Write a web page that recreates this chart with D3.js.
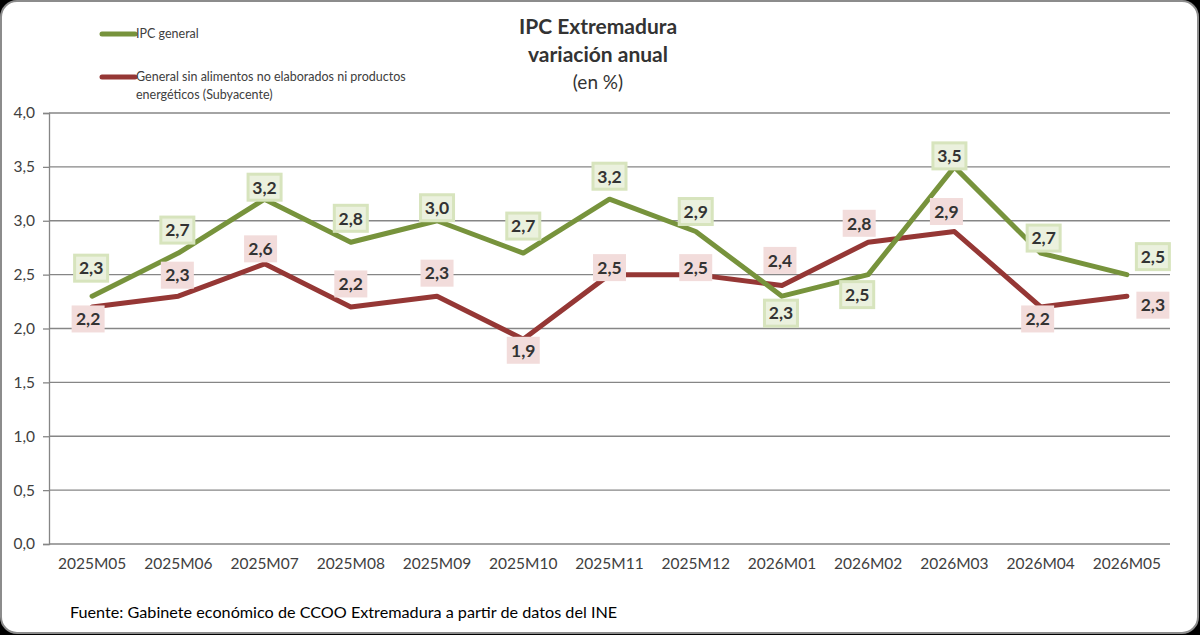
<!DOCTYPE html>
<html>
<head>
<meta charset="utf-8">
<script src="https://cdn.jsdelivr.net/npm/d3@7"></script>
<style>
  body { margin: 0; background: #000; }
  svg { display: block; font-family: Lato, "Open Sans", sans-serif; }
</style>
</head>
<body>
<div id="chart"></div>
<script>
// data
const months = ["2025M05", "2025M06", "2025M07", "2025M08", "2025M09", "2025M10", "2025M11",
                "2025M12", "2026M01", "2026M02", "2026M03", "2026M04", "2026M05"];
const ipcGeneral = [2.3, 2.7, 3.2, 2.8, 3.0, 2.7, 3.2, 2.9, 2.3, 2.5, 3.5, 2.7, 2.5];
const subyacente = [2.2, 2.3, 2.6, 2.2, 2.3, 1.9, 2.5, 2.5, 2.4, 2.8, 2.9, 2.2, 2.3];
const yTicks = [0, 0.5, 1, 1.5, 2, 2.5, 3, 3.5, 4];

// label placement (pixel offsets from the point)
const greenOffsets = [[-1,-28],[-1,-23],[0,-12],[0,-24],[0,-13],[0,-27],[0,-23],[0,-20],[-1,17],[-11,20],[-5,-11],[3,-15],[26,-18]];
const redOffsets = [[-4,12],[-1,-21],[-4,-15],[0,-23],[0,-23],[0,11],[0,-7],[0,-7],[-2,-25],[-9,-19],[-8,-20],[-3,12],[26,9]];

let width = 1200, height = 635;
let svg = d3.select("#chart").append("svg").attr("width", width).attr("height", height);

svg.append("rect").attr("x", 0).attr("y", 0).attr("width", width).attr("height", height).attr("fill", "#000");
svg.append("rect")
    .attr("x", 1).attr("y", 1).attr("width", width - 3).attr("height", height - 3)
    .attr("rx", 16).attr("ry", 16)
    .attr("fill", "#fff")
    .attr("stroke", "#8c8c8c")
    .attr("stroke-width", 2);

let plotLeft = 49, plotRight = 1170, plotTop = 113, plotBottom = 544;

let x = d3.scaleBand().domain(months).range([plotLeft, plotRight]);
let y = d3.scaleLinear().domain([0, 4]).range([plotBottom, plotTop]);
let fmt = v => d3.format(".1f")(v).replace(".", ",");

// gridlines
svg.selectAll(".grid").data(yTicks).enter().append("line")
    .attr("x1", plotLeft).attr("x2", plotRight)
    .attr("y1", d => y(d)).attr("y2", d => y(d))
    .attr("stroke", "#868686")
    .attr("stroke-width", 1.3);

// y axis
let yAxis = svg.append("g")
    .attr("transform", `translate(${plotLeft},0)`)
    .call(d3.axisLeft(y).tickValues(yTicks).tickSize(6).tickPadding(8).tickFormat(fmt));
yAxis.select(".domain").attr("stroke", "#868686").attr("stroke-width", 1.3);
yAxis.selectAll(".tick line").attr("stroke", "#868686").attr("stroke-width", 1.3);
yAxis.selectAll("text").attr("font-size", 15.5).attr("fill", "#404040").attr("font-family", "Lato, sans-serif");

// x axis labels
let xAxis = svg.append("g")
    .attr("transform", `translate(0,${plotBottom})`)
    .call(d3.axisBottom(x).tickSize(0).tickPadding(14));
xAxis.select(".domain").remove();
xAxis.selectAll("text").attr("font-size", 15.5).attr("fill", "#404040").attr("font-family", "Lato, sans-serif");

let cx = d => x(d) + x.bandwidth() / 2;

let series = [
    { values: ipcGeneral, color: "#77933C", boxFill: "#EBF1DE", boxStroke: "#D7E4BD", offsets: greenOffsets },
    { values: subyacente, color: "#953735", boxFill: "#F2DCDB", boxStroke: "none", offsets: redOffsets }
];

let line = d3.line().x(d => cx(d.m)).y(d => y(d.v));

// draw red first so green sits on top like the reference
[series[1], series[0]].forEach(s => {
    let pts = months.map((m, i) => ({ m: m, v: s.values[i] }));
    svg.append("path")
        .attr("d", line(pts))
        .attr("fill", "none")
        .attr("stroke", s.color)
        .attr("stroke-width", 5)
        .attr("stroke-linecap", "round")
        .attr("stroke-linejoin", "round");
});

series.forEach(s => {
    months.forEach((m, i) => {
        let lx = cx(m) + s.offsets[i][0];
        let ly = y(s.values[i]) + s.offsets[i][1];
        let g = svg.append("g").attr("transform", `translate(${lx},${ly})`);
        let bw = 33, bh = s.boxStroke === "none" ? 27 : 26;
        g.append("rect")
            .attr("x", -bw / 2).attr("y", -bh / 2)
            .attr("width", bw).attr("height", bh)
            .attr("fill", s.boxFill)
            .attr("stroke", s.boxStroke)
            .attr("stroke-width", 3);
        g.append("text")
            .attr("text-anchor", "middle")
            .attr("dy", "0.36em")
            .attr("font-size", 17.5)
            .attr("font-weight", "bold")
            .attr("fill", "#333")
            .text(fmt(s.values[i]));
    });
});

// title
let title = svg.append("g").attr("text-anchor", "middle").attr("fill", "#333");
title.append("text").attr("x", 598).attr("y", 34).attr("font-size", 21).attr("font-weight", "bold").text("IPC Extremadura");
title.append("text").attr("x", 598).attr("y", 62).attr("font-size", 21).attr("font-weight", "bold").text("variación anual");
title.append("text").attr("x", 598).attr("y", 89).attr("font-size", 19).text("(en %)");

// legend
svg.append("line").attr("x1", 102).attr("x2", 135).attr("y1", 34).attr("y2", 34)
    .attr("stroke", "#77933C").attr("stroke-width", 5).attr("stroke-linecap", "round");
svg.append("text").attr("x", 136).attr("y", 38).attr("font-size", 12.5).attr("fill", "#404040").text("IPC general");
svg.append("line").attr("x1", 102).attr("x2", 135).attr("y1", 77).attr("y2", 77)
    .attr("stroke", "#953735").attr("stroke-width", 5).attr("stroke-linecap", "round");
svg.append("text").attr("x", 136).attr("y", 81).attr("font-size", 12.5).attr("fill", "#404040")
    .text("General sin alimentos no elaborados ni productos");
svg.append("text").attr("x", 136).attr("y", 99).attr("font-size", 12.5).attr("fill", "#404040")
    .text("energéticos (Subyacente)");

// source
svg.append("text").attr("x", 70).attr("y", 618).attr("font-size", 16.2).attr("fill", "#000")
    .text("Fuente: Gabinete económico de CCOO Extremadura a partir de datos del INE");
</script>
</body>
</html>
